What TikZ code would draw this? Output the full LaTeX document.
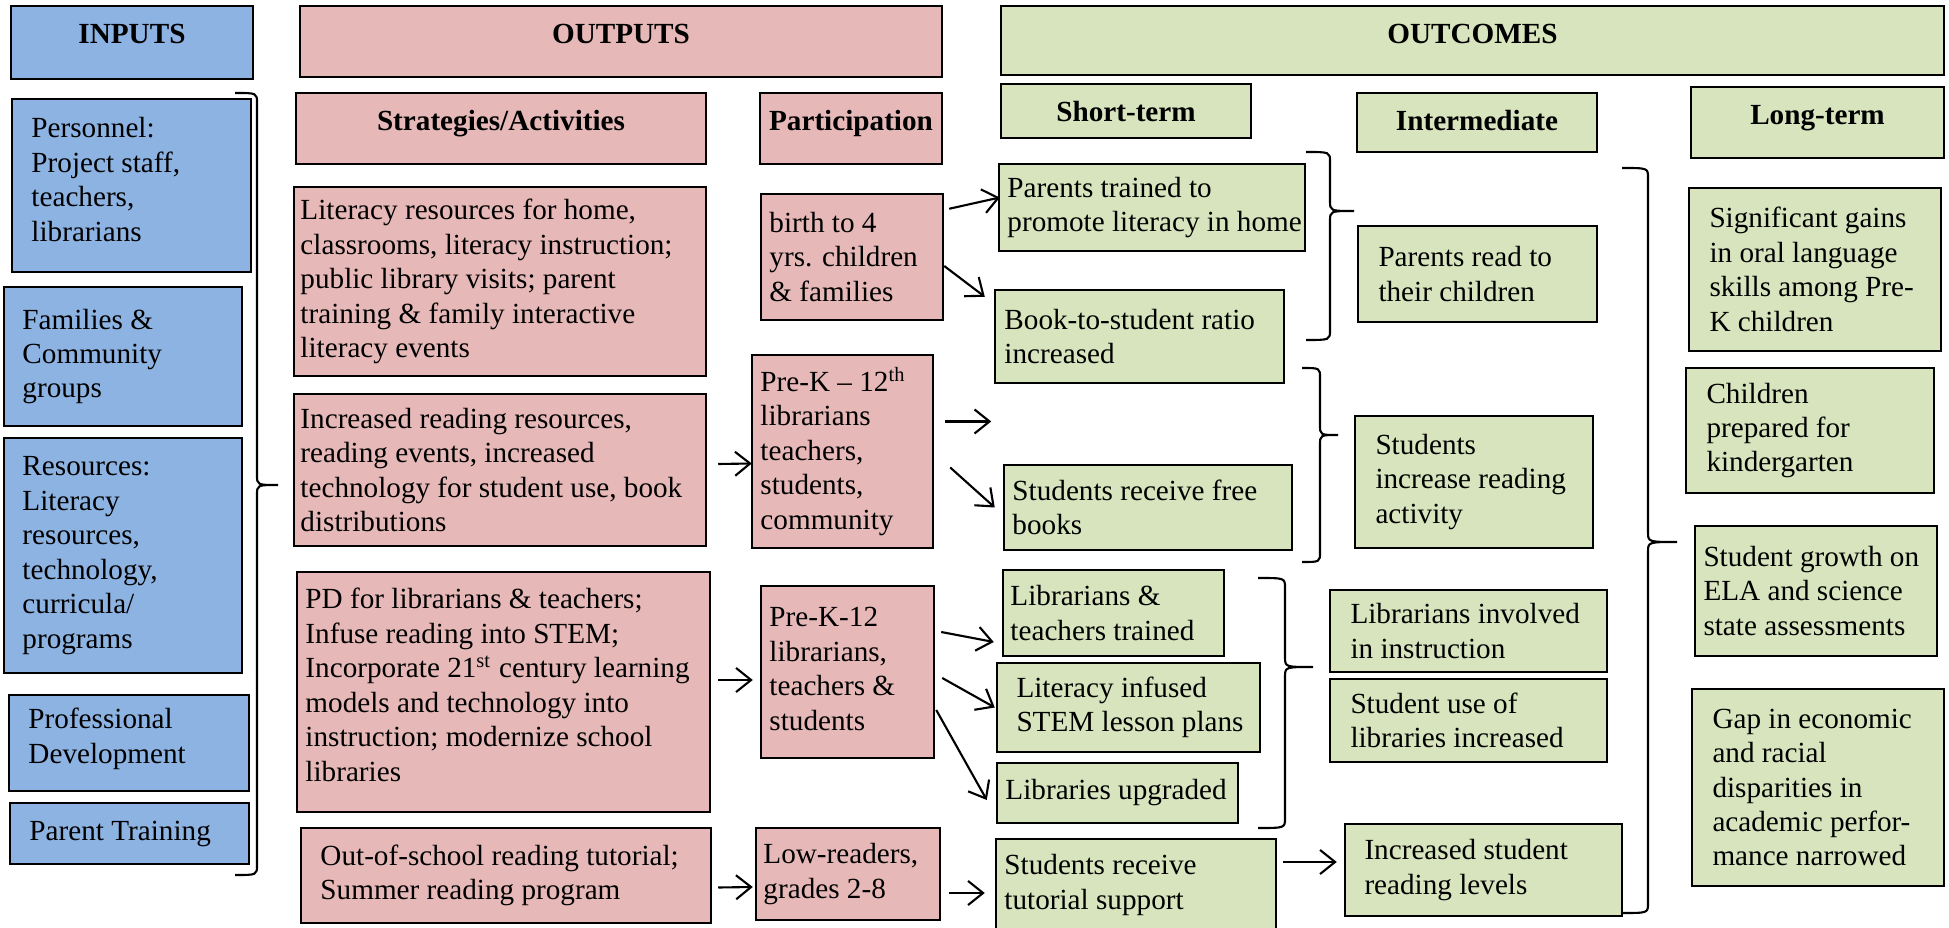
\documentclass[tikz,border=0pt]{standalone}
\usepackage{fontspec}
\setmainfont{Liberation Serif}
\usetikzlibrary{arrows.meta}
\usetikzlibrary{calc}
\usetikzlibrary{fit}
\definecolor{inblue}{RGB}{141,179,226}
\definecolor{outpink}{RGB}{230,185,184}
\definecolor{ocgreen}{RGB}{215,228,189}
\tikzset{
  box/.style = {draw, line width = 0.7pt, inner sep = 0pt},
  inbox/.style = {box, fill = inblue},
  outbox/.style = {box, fill = outpink},
  ocbox/.style = {box, fill = ocgreen},
  txt/.style = {inner sep = 0pt, anchor = west, align = left, xshift = #1, font = \fontsize{8.3}{9.8}\selectfont},
  txt/.default = 0.09cm,
  hd/.style = {inner sep = 0pt, anchor = base, yshift = -0.39cm, font = \bfseries\fontsize{8.3}{9.8}\selectfont},
  arr/.style = {-{Straight Barb[length = 1.5mm, width = 2.4mm]}, line width = 0.6pt},
  brc/.style = {line width = 0.6pt}}

\begin{document}
\begin{tikzpicture}[x = 0.01cm, y = -0.01cm]
  \useasboundingbox (0,0) rectangle (1949,928);
  % inputs
  \node (hin) [inbox, fit = {(11,6) (253,79)}, label = {[hd]north:INPUTS}] {};
  \node (pers) [inbox, fit = {(12,99) (251,272)}, label = {[txt = 0.2cm, yshift = 0.06cm]west:Personnel:\\Project staff,\\teachers,\\librarians}] {};
  \node (fam) [inbox, fit = {(4,287) (242,426)}, label = {[txt = 0.19cm]west:Families \&\\Community\\groups}] {};
  \node (res) [inbox, fit = {(4,438) (242,673)}, label = {[txt = 0.19cm]west:Resources:\\Literacy\\resources,\\technology,\\curricula/\\programs}] {};
  \node (pd) [inbox, fit = {(9,695) (249,791)}, label = {[txt = 0.2cm, yshift = 0.04cm]west:Professional\\Development}] {};
  \node (ptr) [inbox, fit = {(10,803) (249,864)}, label = {[txt = 0.2cm]west:Parent Training}] {};
  % outputs
  \node (hout) [outbox, fit = {(300,6) (942,77)}, label = {[hd]north:OUTPUTS}] {};
  \node (hstrat) [outbox, fit = {(296,93) (706,164)}, label = {[hd]north:Strategies/Activities}] {};
  \node (hpart) [outbox, fit = {(760,93) (942,164)}, label = {[hd]north:Participation}] {};
  \node (st1) [outbox, fit = {(294,187) (706,376)}, label = {[txt = 0.07cm]west:Literacy resources for home,\\classrooms, literacy instruction;\\public library visits; parent\\training \& family interactive\\literacy events}] {};
  \node (st2) [outbox, fit = {(294,394) (706,546)}, label = {[txt = 0.07cm]west:Increased reading resources,\\reading events, increased\\technology for student use, book\\distributions}] {};
  \node (st3) [outbox, fit = {(297,572) (710,812)}, label = {[txt, yshift = 0.07cm]west:PD for librarians \& teachers;\\Infuse reading into STEM;\\Incorporate 21\textsuperscript{st} century learning\\models and technology into\\instruction; modernize school\\libraries}] {};
  \node (st4) [outbox, fit = {(301,828) (711,923)}, label = {[txt = 0.2cm]west:Out-of-school reading tutorial;\\Summer reading program}] {};
  \node (pa1) [outbox, fit = {(761,194) (943,320)}, label = {[txt]west:birth to 4\\yrs. children\\\& families}] {};
  \node (pa2) [outbox, fit = {(752,355) (933,548)}, label = {[txt]west:Pre-K – 12\textsuperscript{th}\\librarians\\teachers,\\students,\\community}] {};
  \node (pa3) [outbox, fit = {(761,586) (934,758)}, label = {[txt, yshift = 0.03cm]west:Pre-K-12\\librarians,\\teachers \&\\students}] {};
  \node (pa4) [outbox, fit = {(756,828) (940,920)}, label = {[txt = 0.08cm]west:Low-readers,\\grades 2-8}] {};
  % outcomes
  \node (hoc) [ocbox, fit = {(1001,6) (1944,75)}, label = {[hd]north:OUTCOMES}] {};
  \node (hshort) [ocbox, fit = {(1001,84) (1251,138)}, label = {[hd]north:Short-term}] {};
  \node (hint) [ocbox, fit = {(1357,93) (1597,152)}, label = {[hd]north:Intermediate}] {};
  \node (hlong) [ocbox, fit = {(1691,87) (1944,158)}, label = {[hd]north:Long-term}] {};
  \node (sh1) [ocbox, fit = {(999,164) (1305,251)}, label = {[txt]west:Parents trained to\\promote literacy in home}] {};
  \node (sh2) [ocbox, fit = {(995,290) (1284,383)}, label = {[txt = 0.1cm]west:Book-to-student ratio\\increased}] {};
  \node (sh3) [ocbox, fit = {(1004,465) (1292,550)}, label = {[txt]west:Students receive free\\books}] {};
  \node (sh4) [ocbox, fit = {(1003,570) (1224,656)}, label = {[txt = 0.08cm]west:Librarians \&\\teachers trained}] {};
  \node (sh5) [ocbox, fit = {(997,663) (1260,752)}, label = {[txt = 0.2cm]west:Literacy infused\\STEM lesson plans}] {};
  \node (sh6) [ocbox, fit = {(997,763) (1238,823)}, label = {[txt]west:Libraries upgraded}] {};
  \node (sh7) [ocbox, fit = {(996,839) (1276,931)}, label = {[txt]west:Students receive\\tutorial support}] {};
  \node (im1) [ocbox, fit = {(1358,226) (1597,322)}, label = {[txt = 0.21cm]west:Parents read to\\their children}] {};
  \node (im2) [ocbox, fit = {(1355,416) (1593,548)}, label = {[txt = 0.21cm]west:Students\\increase reading\\activity}] {};
  \node (im3) [ocbox, fit = {(1330,590) (1607,672)}, label = {[txt = 0.21cm]west:Librarians involved\\in instruction}] {};
  \node (im4) [ocbox, fit = {(1330,679) (1607,762)}, label = {[txt = 0.21cm]west:Student use of\\libraries increased}] {};
  \node (im5) [ocbox, fit = {(1345,824) (1622,916)}, label = {[txt = 0.2cm]west:Increased student\\reading levels}] {};
  \node (lt1) [ocbox, fit = {(1689,188) (1941,351)}, label = {[txt = 0.21cm]west:Significant gains\\in oral language\\skills among Pre-\\K children}] {};
  \node (lt2) [ocbox, fit = {(1686,368) (1934,493)}, label = {[txt = 0.21cm]west:Children\\prepared for\\kindergarten}] {};
  \node (lt3) [ocbox, fit = {(1695,526) (1937,656)}, label = {[txt]west:Student growth on\\ELA and science\\state assessments}] {};
  \node (lt4) [ocbox, fit = {(1692,689) (1944,886)}, label = {[txt = 0.21cm]west:Gap in economic\\and racial\\disparities in\\academic perfor-\\mance narrowed}] {};
  % edges
  \draw[arr] ($(pa1.north east) + (5,16)$) -- ($(sh1.west) + (2,-10)$);
  \draw[arr] ($(pa1.east) + (0,9)$) -- ($(sh2.north west) + (-9,8)$);
  \draw[arr] ($(st2.east) + (11,-6)$) -- ($(pa2.west) + (1,12)$);
  \coordinate (gap) at ($(pa2.east) + (57,-30)$);
  \draw[arr] ($(pa2.east) + (11,-30)$) -- (gap);
  \draw[arr] ($(pa2.east) + (16,16)$) -- ($(sh3.west) + (-8,0)$);
  \draw[arr] ($(st3.east) + (7,-12)$) -- ($(pa3.west) + (-7,8)$);
  \draw[arr] ($(pa3.east) + (6,-40)$) -- ($(sh4.west) + (-8,29)$);
  \draw[arr] ($(pa3.east) + (7,6)$) -- ($(sh5.west) + (-1,0)$);
  \draw[arr] ($(pa3.east) + (1,38)$) -- ($(sh6.west) + (-9,7)$);
  \draw[arr] ($(st4.east) + (6,12)$) -- ($(pa4.west) + (-2,13)$);
  \draw[arr] ($(pa4.east) + (8,19)$) -- ($(sh7.west) + (-10,8)$);
  \draw[arr] ($(sh7.east) + (6,-23)$) -- ($(im5.west) + (-7,-8)$);
  % braces
  \draw[brc] (235,93) .. controls (257,93) .. (257,103) -- (257,475) .. controls (257,485) .. (278,485) .. controls (257,485) .. (257,495) -- (257,865) .. controls (257,875) .. (235,875);
  \draw[brc] (1306,152) .. controls (1330,152) .. (1330,162) -- (1330,201) .. controls (1330,211) .. (1354,211) .. controls (1330,211) .. (1330,221) -- (1330,330) .. controls (1330,340) .. (1306,340);
  \draw[brc] (1302,368) .. controls (1320,368) .. (1320,378) -- (1320,425) .. controls (1320,435) .. (1338,435) .. controls (1320,435) .. (1320,445) -- (1320,552) .. controls (1320,562) .. (1302,562);
  \draw[brc] (1258,578) .. controls (1285,578) .. (1285,588) -- (1285,657) .. controls (1285,667) .. (1313,667) .. controls (1285,667) .. (1285,677) -- (1285,818) .. controls (1285,828) .. (1258,828);
  \draw[brc] (1622,168) .. controls (1648,168) .. (1648,178) -- (1648,532) .. controls (1648,542) .. (1677,542) .. controls (1648,542) .. (1648,552) -- (1648,903) .. controls (1648,913) .. (1622,913);
\end{tikzpicture}
\end{document}
